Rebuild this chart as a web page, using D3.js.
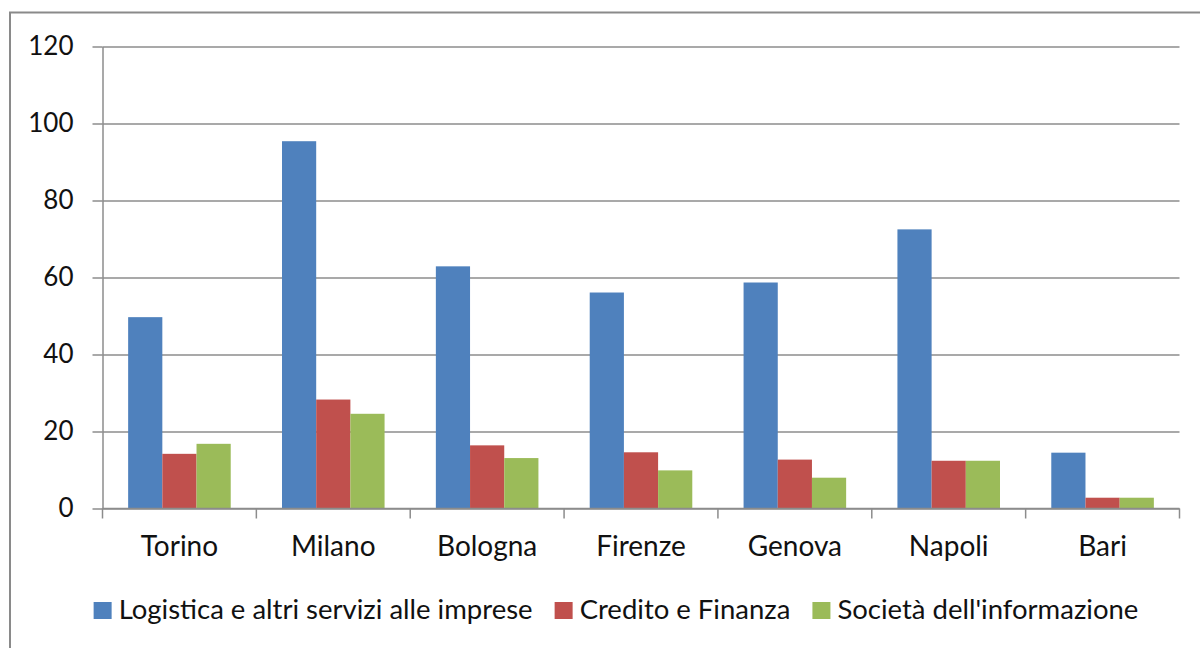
<!DOCTYPE html>
<html>
<head>
<meta charset="utf-8">
<script src="https://cdn.jsdelivr.net/npm/d3@7"></script>
<style>
  body { margin: 0; background: #fff; }
  svg { display: block; font-family: Lato, "Open Sans", sans-serif; }
  .grid line { stroke: #8c8c8c; stroke-width: 1.5; }
  .axis path, .axis line { stroke: #8c8c8c; stroke-width: 1.5; }
  .axis text { fill: #111; }
</style>
</head>
<body>
<div id="chart"></div>
<script>
// values
const cities = ["Torino", "Milano", "Bologna", "Firenze", "Genova", "Napoli", "Bari"];
const seriesNames = ["Logistica e altri servizi alle imprese", "Credito e Finanza", "Società dell'informazione"];
const logistica = [49.7, 95.4, 62.9, 56.1, 58.7, 72.5, 14.5];
const credito = [14.2, 28.3, 16.4, 14.6, 12.7, 12.4, 2.8];
const societa = [16.8, 24.6, 13.1, 9.9, 8.0, 12.4, 2.8];
const yTicks = [0, 20, 40, 60, 80, 100, 120];
const colors = ["#4F81BD", "#C0504D", "#9BBB59"];

const W = 1200, H = 648;
const margin = {top: 46.5, right: 20.5, bottom: 139.5, left: 102.5};
const width = W - margin.left - margin.right;
const height = H - margin.top - margin.bottom;

const svg = d3.select("#chart").append("svg")
    .attr("width", W)
    .attr("height", H);

// chart area border (only left and top visible in the picture)
svg.append("rect")
    .attr("x", 10).attr("y", 12.5)
    .attr("width", 1220).attr("height", 700)
    .attr("fill", "none")
    .attr("stroke", "#8a8a8a")
    .attr("stroke-width", 2);

const g = svg.append("g").attr("transform", `translate(${margin.left},${margin.top})`);

const x = d3.scaleBand().domain(cities).range([0, width]).paddingInner(0).paddingOuter(0);
const y = d3.scaleLinear().domain([0, 120]).range([height, 0]);

// Excel-style gap width 150%
const barW = x.bandwidth() / 4.5;
const xs = d3.scaleBand().domain(d3.range(3))
    .range([barW * 0.75, barW * 3.75]).padding(0);

// gridlines
g.append("g").attr("class", "grid")
    .call(d3.axisLeft(y).tickValues(yTicks).tickSize(-width).tickFormat(""))
    .call(s => s.select(".domain").remove());

// y axis
g.append("g").attr("class", "axis")
    .call(d3.axisLeft(y).tickValues(yTicks).tickSize(10).tickSizeOuter(0).tickPadding(19))
    .call(s => s.selectAll("text").attr("font-size", 26).attr("font-family", "Lato"));

// bars
const rows = cities.map((c, i) => ({city: c, vals: [logistica[i], credito[i], societa[i]]}));
const grp = g.selectAll(".city").data(rows).join("g")
    .attr("class", "city")
    .attr("transform", d => `translate(${x(d.city)},0)`);

grp.selectAll("rect").data(d => d.vals).join("rect")
    .attr("x", (d, i) => xs(i))
    .attr("width", xs.bandwidth())
    .attr("y", d => y(d))
    .attr("height", d => y(0) - y(d))
    .attr("fill", (d, i) => colors[i]);

// x axis: ticks between categories
const xAxis = g.append("g").attr("class", "axis").attr("transform", `translate(0,${height})`);
xAxis.append("line").attr("x1", 0).attr("x2", width).attr("y1", 0).attr("y2", 0);
const bounds = cities.map(c => x(c)).concat([width]);
xAxis.selectAll(".tk").data(bounds).join("line")
    .attr("class", "tk")
    .attr("x1", d => d).attr("x2", d => d)
    .attr("y1", 0).attr("y2", 10);
xAxis.selectAll(".lbl").data(cities).join("text")
    .attr("class", "lbl")
    .attr("x", d => x(d) + x.bandwidth() / 2)
    .attr("y", 47.5)
    .attr("text-anchor", "middle")
    .attr("font-size", 28)
    .text(d => d);

// legend, centred under the chart area
const legend = svg.append("g").attr("transform", "translate(0,619)");
const items = legend.selectAll(".item").data(seriesNames).join("g").attr("class", "item");
items.append("rect")
    .attr("y", -17).attr("width", 18).attr("height", 17)
    .attr("fill", (d, i) => colors[i]);
items.append("text")
    .attr("x", 25)
    .attr("font-size", 27.5)
    .attr("fill", "#111")
    .text(d => d);

let widths = [];
items.each(function() { widths.push(25 + this.querySelector("text").getComputedTextLength()); });
const gap = 22;
const total = d3.sum(widths) + gap * (widths.length - 1);
let cx = 616 - total / 2;
items.attr("transform", (d, i) => {
    const t = `translate(${cx},0)`;
    cx += widths[i] + gap;
    return t;
});
</script>
</body>
</html>
